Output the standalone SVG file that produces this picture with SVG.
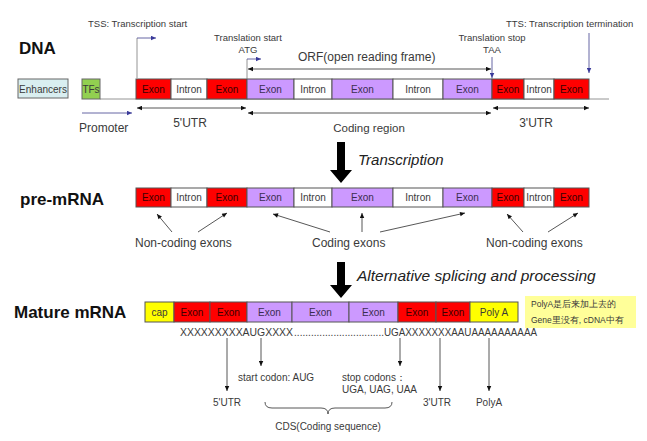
<svg xmlns="http://www.w3.org/2000/svg" width="647" height="441" viewBox="0 0 647 441">
<style>
text{font-family:"Liberation Sans",Arial,sans-serif;fill:#3a3a3a}
.lbl{font-weight:bold;font-size:17px;fill:#111}
.bx{font-size:10px;text-anchor:middle}
.red{fill:#ff0000;stroke:#555;stroke-width:1}
.pur{fill:#cc99ff;stroke:#555;stroke-width:1}
.wht{fill:#ffffff;stroke:#555;stroke-width:1}
.yel{fill:#ffff00;stroke:#555;stroke-width:1}
.tr{fill:#3a0000}
.tp{fill:#3a2d50}
.ln{stroke:#444;stroke-width:0.9;fill:none}
.bl{stroke:#55559a;stroke-width:0.9;fill:none}
.gl{stroke:#888;stroke-width:0.9;fill:none}
.s10{font-size:10px}
.s12{font-size:12px}
.s95{font-size:9.5px}
.it{font-style:italic;fill:#222}
</style>
<defs>
<marker id="ah" viewBox="0 0 10 10" refX="10" refY="5" markerWidth="6" markerHeight="5" markerUnits="userSpaceOnUse" orient="auto-start-reverse"><path d="M0,0.5 L10,5 L0,9.5 z" fill="#111"/></marker>
<marker id="ab" viewBox="0 0 10 10" refX="10" refY="5" markerWidth="6" markerHeight="5" markerUnits="userSpaceOnUse" orient="auto-start-reverse"><path d="M0,0.5 L10,5 L0,9.5 z" fill="#3a3a9a"/></marker>
</defs>

<!-- row labels -->
<text class="lbl" x="19" y="54">DNA</text>
<text class="lbl" x="20" y="205">pre-mRNA</text>
<text class="lbl" x="14" y="318">Mature mRNA</text>

<!-- DNA row -->
<g id="dna">
<line class="gl" x1="100" y1="99" x2="609" y2="99"/>
<g id="enhancers"><rect x="18" y="79" width="50" height="19" fill="#d9eef0" stroke="#666"/><text class="bx" x="43" y="92.5">Enhancers</text></g>
<g id="tfs"><rect x="82" y="79" width="18" height="20" fill="#92d050" stroke="#666"/><text class="bx" x="91" y="92.5">TFs</text></g>
<g id="d1"><rect class="red" x="136" y="79" width="35" height="20"/><text class="bx tr" x="153.5" y="92.5">Exon</text></g>
<g id="d2"><rect class="wht" x="171" y="79" width="36" height="20"/><text class="bx" x="189" y="92.5">Intron</text></g>
<g id="d3"><rect class="red" x="207" y="79" width="40" height="20"/><text class="bx tr" x="227" y="92.5">Exon</text></g>
<g id="d4"><rect class="pur" x="247" y="79" width="47" height="20"/><text class="bx tp" x="270.5" y="92.5">Exon</text></g>
<g id="d5"><rect class="wht" x="294" y="79" width="38" height="20"/><text class="bx" x="313" y="92.5">Intron</text></g>
<g id="d6"><rect class="pur" x="332" y="79" width="61" height="20"/><text class="bx tp" x="362.5" y="92.5">Exon</text></g>
<g id="d7"><rect class="wht" x="393" y="79" width="50" height="20"/><text class="bx" x="418" y="92.5">Intron</text></g>
<g id="d8"><rect class="pur" x="443" y="79" width="49" height="20"/><text class="bx tp" x="467.5" y="92.5">Exon</text></g>
<g id="d9"><rect class="red" x="492" y="79" width="32" height="20"/><text class="bx tr" x="508" y="92.5">Exon</text></g>
<g id="d10"><rect class="wht" x="524" y="79" width="30" height="20"/><text class="bx" x="539" y="92.5">Intron</text></g>
<g id="d11"><rect class="red" x="554" y="79" width="35" height="20"/><text class="bx tr" x="571.5" y="92.5">Exon</text></g>
</g>

<!-- DNA annotations -->
<g id="dna-text">
<text class="s95" x="88" y="27">TSS: Transcription start</text>
<text class="s95" x="248" y="41" text-anchor="middle">Translation start</text>
<text class="s95" x="248" y="53" text-anchor="middle">ATG</text>
<text class="s12" x="298" y="61">ORF(open reading frame)</text>
<text class="s95" x="492" y="41" text-anchor="middle">Translation stop</text>
<text class="s95" x="492" y="53" text-anchor="middle">TAA</text>
<text class="s95" x="506" y="27">TTS: Transcription termination</text>
<text class="s12" x="79" y="132">Promoter</text>
<text class="s12" x="190" y="127" text-anchor="middle">5'UTR</text>
<text x="369" y="132" text-anchor="middle" font-size="11.5">Coding region</text>
<text class="s12" x="536" y="127" text-anchor="middle">3'UTR</text>
</g>

<!-- pre-mRNA row -->
<g id="pre">
<g id="p1"><rect class="red" x="136" y="188" width="35" height="19"/><text class="bx tr" x="153.5" y="201">Exon</text></g>
<g id="p2"><rect class="wht" x="171" y="188" width="36" height="19"/><text class="bx" x="189" y="201">Intron</text></g>
<g id="p3"><rect class="red" x="207" y="188" width="40" height="19"/><text class="bx tr" x="227" y="201">Exon</text></g>
<g id="p4"><rect class="pur" x="247" y="188" width="47" height="19"/><text class="bx tp" x="270.5" y="201">Exon</text></g>
<g id="p5"><rect class="wht" x="294" y="188" width="38" height="19"/><text class="bx" x="313" y="201">Intron</text></g>
<g id="p6"><rect class="pur" x="332" y="188" width="61" height="19"/><text class="bx tp" x="362.5" y="201">Exon</text></g>
<g id="p7"><rect class="wht" x="393" y="188" width="50" height="19"/><text class="bx" x="418" y="201">Intron</text></g>
<g id="p8"><rect class="pur" x="443" y="188" width="49" height="19"/><text class="bx tp" x="467.5" y="201">Exon</text></g>
<g id="p9"><rect class="red" x="492" y="188" width="32" height="19"/><text class="bx tr" x="508" y="201">Exon</text></g>
<g id="p10"><rect class="wht" x="524" y="188" width="30" height="19"/><text class="bx" x="539" y="201">Intron</text></g>
<g id="p11"><rect class="red" x="554" y="188" width="35" height="19"/><text class="bx tr" x="571.5" y="201">Exon</text></g>
</g>
<g id="pre-text">
<text class="s12" x="135" y="247">Non-coding exons</text>
<text class="s12" x="312" y="247">Coding exons</text>
<text class="s12" x="486" y="247">Non-coding exons</text>
</g>

<!-- Mature mRNA row -->
<g id="mature">
<g id="m1"><rect class="yel" x="145" y="302" width="29" height="20"/><text class="bx" x="159.5" y="315.5">cap</text></g>
<g id="m2"><rect class="red" x="174" y="302" width="36" height="20"/><text class="bx tr" x="192" y="315.5">Exon</text></g>
<g id="m3"><rect class="red" x="210" y="302" width="37" height="20"/><text class="bx tr" x="228.5" y="315.5">Exon</text></g>
<g id="m4"><rect class="pur" x="247" y="302" width="45" height="20"/><text class="bx tp" x="269.5" y="315.5">Exon</text></g>
<g id="m5"><rect class="pur" x="292" y="302" width="57" height="20"/><text class="bx tp" x="320.5" y="315.5">Exon</text></g>
<g id="m6"><rect class="pur" x="349" y="302" width="49" height="20"/><text class="bx tp" x="373.5" y="315.5">Exon</text></g>
<g id="m7"><rect class="red" x="398" y="302" width="38" height="20"/><text class="bx tr" x="417" y="315.5">Exon</text></g>
<g id="m8"><rect class="red" x="436" y="302" width="34" height="20"/><text class="bx tr" x="453" y="315.5">Exon</text></g>
<g id="m9"><rect class="yel" x="470" y="302" width="48" height="20"/><text class="bx" x="494" y="315.5">Poly A</text></g>
</g>
<g id="note">
<rect x="525" y="296" width="111" height="32" fill="#ffff99"/>
<text x="531" y="307" font-size="8.5" font-family="'Liberation Sans','Noto Sans CJK SC',sans-serif">PolyA是后来加上去的</text>
<text x="531" y="323" font-size="8.5" font-family="'Liberation Sans','Noto Sans CJK SC',sans-serif">Gene里没有, cDNA中有</text>
</g>
<g id="seq">
<text class="s10" x="180" y="335.5" textLength="113" lengthAdjust="spacingAndGlyphs">XXXXXXXXXAUGXXXX</text>
<text class="s10" x="294" y="335.5" textLength="90" lengthAdjust="spacing">................................</text>
<text class="s10" x="384" y="335.5" textLength="153" lengthAdjust="spacingAndGlyphs">UGAXXXXXXXAAUAAAAAAAAAA</text>
</g>
<g id="mature-text">
<text class="s10" x="227" y="406" text-anchor="middle">5'UTR</text>
<text class="s10" x="238" y="381">start codon: AUG</text>
<text class="s10" x="342" y="381">stop codons：</text>
<text class="s10" x="342" y="393">UGA, UAG, UAA</text>
<text class="s10" x="437" y="406" text-anchor="middle">3'UTR</text>
<text class="s10" x="489" y="406" text-anchor="middle">PolyA</text>
<text class="s10" x="328" y="430" text-anchor="middle">CDS(Coding sequence)</text>
</g>

<!-- process arrows -->
<g id="transcription">
<path d="M337,142 H345 V170 H352 L341,183 L330,170 H337 Z" fill="#000"/>
<text class="it" x="358" y="165" font-size="15">Transcription</text>
</g>
<g id="splicing">
<path d="M337,262 H345 V285 H352 L341,298 L330,285 H337 Z" fill="#000"/>
<text class="it" x="357" y="281" font-size="15.5">Alternative splicing and processing</text>
</g>

<!-- connectors -->
<g id="connectors">
<path class="gl" d="M137,78 V38"/><path class="bl" d="M137,38 H156" marker-end="url(#ab)"/>
<path class="gl" d="M247,78 V59"/><path class="bl" d="M247,59 H261" marker-end="url(#ab)"/>
<path class="bl" d="M492,57 V78" marker-end="url(#ab)"/>
<path class="bl" d="M589,33 V73" marker-end="url(#ab)"/>
<path class="ln" d="M248,69 H491" marker-start="url(#ah)" marker-end="url(#ah)"/>
<path class="bl" d="M82,113 H132" marker-end="url(#ab)"/>
<path class="ln" d="M137,108 H246" marker-start="url(#ah)" marker-end="url(#ah)"/>
<path class="ln" d="M248,113 H491" marker-start="url(#ah)" marker-end="url(#ah)"/>
<path class="ln" d="M493,108 H589" marker-start="url(#ah)" marker-end="url(#ah)"/>

<path class="ln" d="M172,232 L157,214" marker-end="url(#ah)"/>
<path class="ln" d="M198,232 L227,213" marker-end="url(#ah)"/>
<path class="ln" d="M330,232 L273,214" marker-end="url(#ah)"/>
<path class="ln" d="M362,232 V213" marker-end="url(#ah)"/>
<path class="ln" d="M380,232 L465,213" marker-end="url(#ah)"/>
<path class="ln" d="M523,232 L507,214" marker-end="url(#ah)"/>
<path class="ln" d="M548,232 L578,213" marker-end="url(#ah)"/>

<path class="ln" d="M227,338 V391" marker-end="url(#ah)"/>
<path class="ln" d="M261,338 V366" marker-end="url(#ah)"/>
<path class="ln" d="M400,338 V366" marker-end="url(#ah)"/>
<path class="ln" d="M440,338 V391" marker-end="url(#ah)"/>
<path class="ln" d="M489,338 V391" marker-end="url(#ah)"/>
<path class="ln" d="M265,402 Q265,408 272,408 H321 Q328,408 328,414 Q328,408 335,408 H385 Q392,408 392,402"/>
</g>
</svg>
